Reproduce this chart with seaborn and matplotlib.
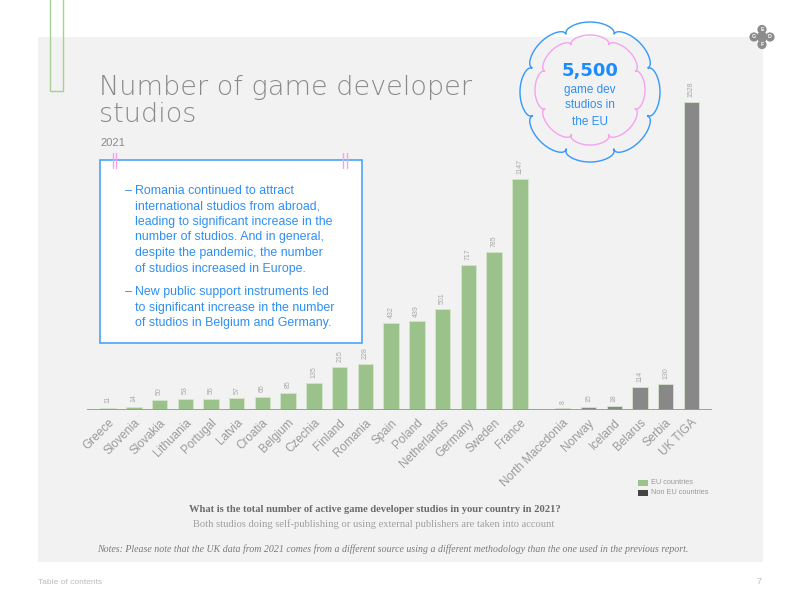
import numpy as np
import pandas as pd
import matplotlib
matplotlib.use("Agg")
import matplotlib.pyplot as plt
import seaborn as sns
from matplotlib.patches import Rectangle, Circle, Polygon
from matplotlib.transforms import ScaledTranslation

# ---------------- data ----------------
eu_countries = ["Greece", "Slovenia", "Slovakia", "Lithuania", "Portugal", "Latvia",
                "Croatia", "Belgium", "Czechia", "Finland", "Romania", "Spain",
                "Poland", "Netherlands", "Germany", "Sweden", "France"]
eu_values = [11, 14, 50, 53, 55, 57, 65, 85, 135, 215, 228, 432, 439, 501, 717, 785, 1147]
non_eu_countries = ["North Macedonia", "Norway", "Iceland", "Belarus", "Serbia", "UK TIGA"]
non_eu_values = [8, 15, 18, 114, 130, 1528]
legend_labels = ["EU countries", "Non EU countries"]

title_lines = ["Number of game developer", "studios"]
subtitle = "2021"
para1 = ["Romania continued to attract", "international studios from abroad,",
         "leading to significant increase in the", "number of studios. And in general,",
         "despite the pandemic, the number", "of studios increased in Europe."]
para2 = ["New public support instruments led", "to significant increase in the number",
         "of studios in Belgium and Germany."]
badge_big = "5,500"
badge_small = ["game dev", "studios in", "the EU"]
question = "What is the total number of active game developer studios in your country in 2021?"
question_sub = "Both studios doing self-publishing or using external publishers are taken into account"
notes = ("Notes: Please note that the UK data from 2021 comes from a different source using a "
         "different methodology than the one used in the previous report.")

# ---------------- styling ----------------
sns.set_theme(style="white")
plt.rcParams["font.family"] = ["Liberation Sans", "DejaVu Sans"]

GREEN = "#9bc28a"
GREY_BAR = "#888888"
BLUE = "#2e8ff2"
PINK = "#f5a3ee"

W, H = 800, 600
fig = plt.figure(figsize=(8, 6), dpi=100, facecolor="white")

# background panel
bg = fig.add_axes([0, 0, 1, 1], zorder=0)
bg.set_xlim(0, W); bg.set_ylim(H, 0); bg.axis("off")
bg.add_patch(Rectangle((38, 37), 725, 525, facecolor="#f2f2f2", edgecolor="none"))
bg.add_patch(Rectangle((50, -3), 13, 94, facecolor="none", edgecolor="#a9cf98", lw=1.0))

# ---------------- bar chart ----------------
gap = 0.67
pos = list(np.arange(len(eu_countries), dtype=float)) + \
      list(len(eu_countries) + gap + np.arange(len(non_eu_countries), dtype=float))
df = pd.DataFrame({
    "pos": pos,
    "country": eu_countries + non_eu_countries,
    "value": eu_values + non_eu_values,
    "group": [legend_labels[0]] * len(eu_countries) + [legend_labels[1]] * len(non_eu_countries),
})

left_px, right_px, base_px, top_px = 87, 712, 410, 77
ax = fig.add_axes([left_px / W, 1 - base_px / H, (right_px - left_px) / W, (base_px - top_px) / H],
                  zorder=2)
ax.set_facecolor("none")
sns.barplot(data=df, x="pos", y="value", hue="group", native_scale=True, dodge=False,
            palette={legend_labels[0]: GREEN, legend_labels[1]: GREY_BAR}, saturation=1,
            width=0.6, legend=False, ax=ax, edgecolor="#d6e6cc", linewidth=0.6)
ax.set_xlim(-0.82, pos[-1] + 0.8)
ax.set_ylim(0, 1650)
for s in ax.spines.values():
    s.set_visible(False)
ax.axhline(0, color="#9a9a9a", lw=1.3, zorder=5)
ax.set_yticks([])
ax.set_xlabel(""); ax.set_ylabel("")
ax.set_xticks(pos)
ax.set_xticklabels(df["country"], rotation=45, ha="right", va="center",
                   rotation_mode="anchor", fontsize=8.5, color="#9a9a9a")
ax.tick_params(axis="x", length=0, pad=8)
for lbl in ax.get_xticklabels():
    lbl.set_transform(lbl.get_transform() + ScaledTranslation(4 / 100, 0, fig.dpi_scale_trans))

for x, v in zip(df["pos"], df["value"]):
    ax.annotate(str(v), (x, v), xytext=(0, 3.5), textcoords="offset points",
                rotation=90, ha="center", va="bottom", fontsize=5, color="#a8a8a8")

# ---------------- overlay ----------------
ov = fig.add_axes([0, 0, 1, 1], zorder=5)
ov.set_xlim(0, W); ov.set_ylim(H, 0); ov.axis("off"); ov.set_facecolor("none")

for t, yy in zip(title_lines, [95.5, 122.5]):
    ov.text(99, yy, t, fontsize=19.5, color="#8a8a8a", ha="left", va="baseline",
            family="DejaVu Sans", fontweight="light")
ov.text(100, 146, subtitle, fontsize=8, color="#8a8a8a", ha="left", va="baseline")

# text box
ov.add_patch(Rectangle((100, 160), 262, 183, facecolor="white", edgecolor="#4aa3f7", lw=1.2))
for xx in (113, 116, 343, 347):
    ov.plot([xx, xx], [153, 168], color=PINK, lw=1)
y1 = [190.7, 206.2, 221.7, 237.3, 253.0, 268.7]
y2 = [292.3, 307.8, 323.3]
for lines, ys in ((para1, y1), (para2, y2)):
    ov.text(125, ys[0], "–", fontsize=9, color=BLUE, ha="left", va="center")
    for t, yy in zip(lines, ys):
        ov.text(135, yy, t, fontsize=8.9, color=BLUE, ha="left", va="center")

# badge
def lobed(cx, cy, rbase, amp):
    t = np.linspace(0, 2 * np.pi, 1600)
    r = rbase + amp * np.abs(np.cos(4 * t)) ** 0.22
    return np.column_stack([cx + r * np.cos(t + np.pi / 2), cy + r * np.sin(t + np.pi / 2)])

ov.add_patch(Polygon(lobed(590, 92, 59, 11), closed=True, facecolor="none",
                     edgecolor="#3399ff", lw=1))
ov.add_patch(Polygon(lobed(590, 90, 46, 9), closed=True, facecolor="none",
                     edgecolor=PINK, lw=1))
ov.text(590, 71, badge_big, fontsize=13, fontweight="bold", color="#1a8cff",
        ha="center", va="center", family="DejaVu Sans")
for t, yy in zip(badge_small, [90, 104.5, 122]):
    ov.text(590, yy, t, fontsize=8.5, color="#2e8ff2", ha="center", va="center")

# logo
ov.add_patch(Rectangle((758, 33), 8, 8, facecolor="#8c8c8c", edgecolor="none"))
for (cx, cy, letter) in [(762, 29.5, "E"), (754, 37, "G"), (770, 37, "D"), (762, 44.5, "F")]:
    ov.add_patch(Circle((cx, cy), 4.6, facecolor="#8c8c8c", edgecolor="none"))
    ov.text(cx, cy, letter, fontsize=3.8, fontweight="bold", color="white",
            ha="center", va="center")

# legend
ov.add_patch(Rectangle((638, 479.5), 10, 6, facecolor=GREEN, edgecolor="none"))
ov.add_patch(Rectangle((638, 490), 10, 6, facecolor="#444444", edgecolor="none"))
ov.text(651, 482.5, legend_labels[0], fontsize=5.3, color="#9a9a9a", ha="left", va="center")
ov.text(651, 493, legend_labels[1], fontsize=5.3, color="#9a9a9a", ha="left", va="center")

# footer
ov.text(375, 509.5, question, fontsize=7.6, fontweight="bold", color="#6b6b6b",
        ha="center", va="center", family=["Liberation Serif", "DejaVu Serif"])
ov.text(374, 524.5, question_sub, fontsize=7.6, color="#a0a0a0",
        ha="center", va="center", family=["Liberation Serif", "DejaVu Serif"])
ov.text(392.5, 549, notes, fontsize=7.1, style="italic", color="#7a7a7a",
        ha="center", va="center", family=["Liberation Serif", "DejaVu Serif"])
ov.text(38, 582, "Table of contents", fontsize=6, color="#bbbbbb", ha="left", va="center")
ov.text(762, 582, "7", fontsize=6.5, color="#bbbbbb", ha="right", va="center")

fig.savefig("out.png", dpi=100, facecolor="white")
